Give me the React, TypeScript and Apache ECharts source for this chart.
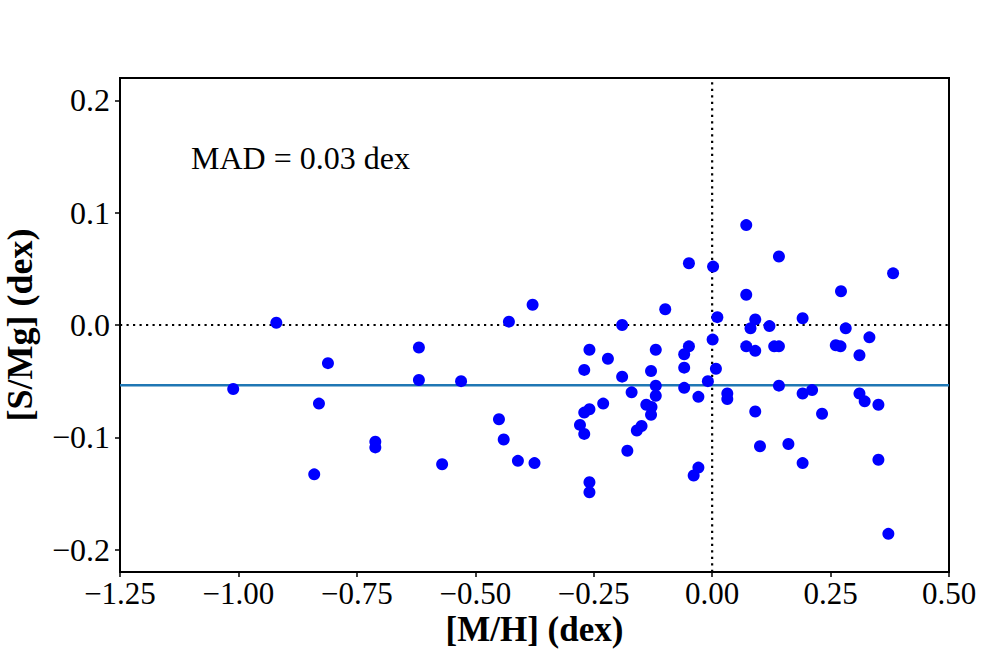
import React, { useEffect, useRef } from "react";
import * as echarts from "echarts";

const mh = [
  -1.011, -0.92, -0.84, -0.83, -0.811, -0.711, -0.711, -0.619, -0.619, -0.57,
  -0.53, -0.45, -0.44, -0.429, -0.41, -0.379, -0.375, -0.279, -0.27, -0.27,
  -0.27, -0.259, -0.259, -0.259, -0.259, -0.23, -0.22, -0.19, -0.19, -0.179,
  -0.17, -0.159, -0.149, -0.139, -0.129, -0.128, -0.129, -0.119, -0.119, -0.119,
  -0.099, -0.059, -0.059, -0.059, -0.049, -0.049, -0.039, -0.029, -0.029, -0.009,
  0.001, 0.002, 0.008, 0.011, 0.032, 0.032, 0.072, 0.072, 0.072, 0.081,
  0.091, 0.091, 0.091, 0.101, 0.121, 0.131, 0.141, 0.141, 0.141, 0.161,
  0.191, 0.191, 0.191, 0.211, 0.232, 0.261, 0.271, 0.272, 0.282, 0.311,
  0.311, 0.322, 0.332, 0.351, 0.351, 0.372, 0.382,
];
const smg = [
  -0.057, 0.002, -0.133, -0.07, -0.034, -0.104, -0.109, -0.02, -0.049, -0.124,
  -0.05, -0.084, -0.102, 0.003, -0.121, 0.018, -0.123, -0.089, -0.04, -0.078,
  -0.097, -0.022, -0.075, -0.14, -0.149, -0.07, -0.03, 0.0, -0.046, -0.112,
  -0.06, -0.094, -0.09, -0.071, -0.041, -0.073, -0.08, -0.022, -0.054, -0.063,
  0.014, -0.026, -0.038, -0.056, -0.019, 0.055, -0.134, -0.064, -0.127, -0.05,
  -0.013, 0.052, -0.039, 0.007, -0.061, -0.066, 0.089, 0.027, -0.019, -0.003,
  0.005, -0.023, -0.077, -0.108, -0.001, -0.019, -0.019, 0.061, -0.054, -0.106,
  0.006, -0.061, -0.123, -0.058, -0.079, -0.018, -0.019, 0.03, -0.003, -0.027,
  -0.061, -0.068, -0.011, -0.071, -0.12, -0.186, 0.046,
];
const meanLine = -0.0536;
const xRange = [-1.25, 0.5];
const yRange = [-0.22, 0.22];
const yTicks = [-0.2, -0.1, 0.0, 0.1, 0.2];
const annotation = "MAD = 0.03 dex";

const FONT = "'Liberation Serif', 'DejaVu Serif', serif";

function fmt(v: number, d: number) {
  const s = Math.abs(v).toFixed(d);
  return v < -1e-9 ? "\u2212" + s : s;
}

export default function App() {
  const ref = useRef<HTMLDivElement>(null);
  useEffect(() => {
    document.body.style.margin = "0";
    const chart = echarts.init(ref.current!, null, { renderer: "svg" });
    const pts = mh.map((x, i) => [x, smg[i]]);
    chart.setOption({
      animation: false,
      backgroundColor: "#ffffff",
      grid: {
        left: 120,
        right: 51,
        top: 78,
        bottom: 78,
        containLabel: false,
        outerBoundsMode: "none",
        show: true,
        borderColor: "#000",
        borderWidth: 2,
        backgroundColor: "transparent",
      },
      xAxis: {
        type: "value",
        min: xRange[0],
        max: xRange[1],
        interval: 0.25,
        name: "[M/H] (dex)",
        nameLocation: "middle",
        nameMoveOverlap: false,
        nameGap: 40,
        nameTextStyle: { fontFamily: FONT, fontSize: 35, fontWeight: "bold", color: "#000" },
        axisLine: { show: true, onZero: false, lineStyle: { color: "#000", width: 2 } },
        axisTick: { show: true, inside: false, length: 5, lineStyle: { color: "#000", width: 1.5 } },
        axisLabel: {
          fontFamily: FONT,
          fontSize: 31,
          color: "#000",
          margin: 6,
          formatter: (v: number) => fmt(v, 2),
        },
        splitLine: { show: false },
      },
      yAxis: {
        type: "value",
        min: yRange[0],
        max: yRange[1],
        name: "[S/Mg] (dex)",
        nameLocation: "middle",
        nameMoveOverlap: false,
        nameGap: 82,
        nameRotate: 90,
        nameTextStyle: { fontFamily: FONT, fontSize: 36, fontWeight: "bold", color: "#000" },
        axisLine: { show: true, onZero: false, lineStyle: { color: "#000", width: 2 } },
        axisTick: {
          show: true,
          inside: false,
          length: 5,
          customValues: yTicks,
          lineStyle: { color: "#000", width: 1.5 },
        },
        axisLabel: {
          fontFamily: FONT,
          fontSize: 32,
          color: "#000",
          margin: 10,
          customValues: yTicks,
          formatter: (v: number) => fmt(v, 1),
        },
        splitLine: { show: false },
      },
      graphic: [
        {
          type: "text",
          x: 191,
          y: 158,
          style: {
            text: annotation,
            fontFamily: FONT,
            fontSize: 32,
            fill: "#000",
            verticalAlign: "middle",
            align: "left",
          },
        },
      ],
      series: [
        {
          type: "line",
          data: [
            [xRange[0], 0],
            [xRange[1], 0],
          ],
          symbol: "none",
          lineStyle: { color: "#000", width: 2.2, type: [2.2, 4.3] },
          z: 2,
        },
        {
          type: "line",
          data: [
            [0, yRange[0]],
            [0, yRange[1]],
          ],
          symbol: "none",
          lineStyle: { color: "#000", width: 2.2, type: [2.2, 4.3] },
          z: 2,
        },
        {
          type: "line",
          data: [
            [xRange[0], meanLine],
            [xRange[1], meanLine],
          ],
          symbol: "none",
          lineStyle: { color: "#1f77b4", width: 2.5 },
          z: 3,
        },
        {
          type: "scatter",
          data: pts,
          symbol: "circle",
          symbolSize: 12,
          itemStyle: { color: "#0000ff", opacity: 1 },
          z: 4,
        },
      ],
    });
    return () => chart.dispose();
  }, []);
  return <div ref={ref} style={{ width: 1000, height: 650 }} />;
}
